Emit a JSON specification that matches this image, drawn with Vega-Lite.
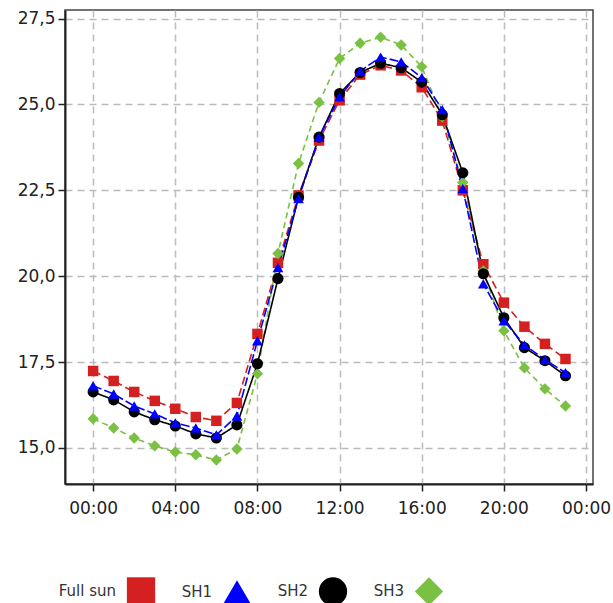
{
  "$schema": "https://vega.github.io/schema/vega-lite/v6.json",
  "width": 528,
  "height": 474,
  "padding": {"left": 17, "top": 9, "right": 5, "bottom": 0},
  "background": "white",
  "config": {
    "view": {"stroke": "#444", "strokeWidth": 1.5},
    "font": "DejaVu Sans",
    "axis": {
      "labelFont": "DejaVu Sans", "labelFontSize": 17, "labelColor": "#222",
      "domainColor": "#222", "domainWidth": 2, "tickColor": "#222", "tickWidth": 1.5, "tickSize": 7,
      "gridColor": "#bbbbbb", "gridDash": [7, 5], "gridWidth": 1.5, "title": null
    }
  },
  "datasets": {
    "temps": [
      {"series": "Full sun", "hour": 0, "temp": 17.24}, {"series": "Full sun", "hour": 1, "temp": 16.95}, {"series": "Full sun", "hour": 2, "temp": 16.63}, {"series": "Full sun", "hour": 3, "temp": 16.37}, {"series": "Full sun", "hour": 4, "temp": 16.14}, {"series": "Full sun", "hour": 5, "temp": 15.90}, {"series": "Full sun", "hour": 6, "temp": 15.79}, {"series": "Full sun", "hour": 7, "temp": 16.31}, {"series": "Full sun", "hour": 8, "temp": 18.32}, {"series": "Full sun", "hour": 9, "temp": 20.39}, {"series": "Full sun", "hour": 10, "temp": 22.35}, {"series": "Full sun", "hour": 11, "temp": 23.95}, {"series": "Full sun", "hour": 12, "temp": 25.12}, {"series": "Full sun", "hour": 13, "temp": 25.87}, {"series": "Full sun", "hour": 14, "temp": 26.14}, {"series": "Full sun", "hour": 15, "temp": 25.99}, {"series": "Full sun", "hour": 16, "temp": 25.50}, {"series": "Full sun", "hour": 17, "temp": 24.53}, {"series": "Full sun", "hour": 18, "temp": 22.50}, {"series": "Full sun", "hour": 19, "temp": 20.35}, {"series": "Full sun", "hour": 20, "temp": 19.23}, {"series": "Full sun", "hour": 21, "temp": 18.53}, {"series": "Full sun", "hour": 22, "temp": 18.03}, {"series": "Full sun", "hour": 23, "temp": 17.59},
      {"series": "SH3", "hour": 0, "temp": 15.85}, {"series": "SH3", "hour": 1, "temp": 15.58}, {"series": "SH3", "hour": 2, "temp": 15.29}, {"series": "SH3", "hour": 3, "temp": 15.06}, {"series": "SH3", "hour": 4, "temp": 14.88}, {"series": "SH3", "hour": 5, "temp": 14.80}, {"series": "SH3", "hour": 6, "temp": 14.65}, {"series": "SH3", "hour": 7, "temp": 14.97}, {"series": "SH3", "hour": 8, "temp": 17.16}, {"series": "SH3", "hour": 9, "temp": 20.66}, {"series": "SH3", "hour": 10, "temp": 23.28}, {"series": "SH3", "hour": 11, "temp": 25.06}, {"series": "SH3", "hour": 12, "temp": 26.34}, {"series": "SH3", "hour": 13, "temp": 26.78}, {"series": "SH3", "hour": 14, "temp": 26.96}, {"series": "SH3", "hour": 15, "temp": 26.73}, {"series": "SH3", "hour": 16, "temp": 26.10}, {"series": "SH3", "hour": 17, "temp": 24.64}, {"series": "SH3", "hour": 18, "temp": 22.73}, {"series": "SH3", "hour": 19, "temp": 20.15}, {"series": "SH3", "hour": 20, "temp": 18.41}, {"series": "SH3", "hour": 21, "temp": 17.33}, {"series": "SH3", "hour": 22, "temp": 16.72}, {"series": "SH3", "hour": 23, "temp": 16.22},
      {"series": "SH2", "hour": 0, "temp": 16.63}, {"series": "SH2", "hour": 1, "temp": 16.40}, {"series": "SH2", "hour": 2, "temp": 16.05}, {"series": "SH2", "hour": 3, "temp": 15.82}, {"series": "SH2", "hour": 4, "temp": 15.64}, {"series": "SH2", "hour": 5, "temp": 15.41}, {"series": "SH2", "hour": 6, "temp": 15.29}, {"series": "SH2", "hour": 7, "temp": 15.67}, {"series": "SH2", "hour": 8, "temp": 17.45}, {"series": "SH2", "hour": 9, "temp": 19.93}, {"series": "SH2", "hour": 10, "temp": 22.30}, {"series": "SH2", "hour": 11, "temp": 24.05}, {"series": "SH2", "hour": 12, "temp": 25.32}, {"series": "SH2", "hour": 13, "temp": 25.93}, {"series": "SH2", "hour": 14, "temp": 26.20}, {"series": "SH2", "hour": 15, "temp": 26.07}, {"series": "SH2", "hour": 16, "temp": 25.65}, {"series": "SH2", "hour": 17, "temp": 24.70}, {"series": "SH2", "hour": 18, "temp": 23.01}, {"series": "SH2", "hour": 19, "temp": 20.07}, {"series": "SH2", "hour": 20, "temp": 18.79}, {"series": "SH2", "hour": 21, "temp": 17.92}, {"series": "SH2", "hour": 22, "temp": 17.54}, {"series": "SH2", "hour": 23, "temp": 17.10},
      {"series": "SH1", "hour": 0, "temp": 16.81}, {"series": "SH1", "hour": 1, "temp": 16.57}, {"series": "SH1", "hour": 2, "temp": 16.22}, {"series": "SH1", "hour": 3, "temp": 15.99}, {"series": "SH1", "hour": 4, "temp": 15.73}, {"series": "SH1", "hour": 5, "temp": 15.58}, {"series": "SH1", "hour": 6, "temp": 15.38}, {"series": "SH1", "hour": 7, "temp": 15.93}, {"series": "SH1", "hour": 8, "temp": 18.12}, {"series": "SH1", "hour": 9, "temp": 20.25}, {"series": "SH1", "hour": 10, "temp": 22.26}, {"series": "SH1", "hour": 11, "temp": 24.04}, {"series": "SH1", "hour": 12, "temp": 25.22}, {"series": "SH1", "hour": 13, "temp": 25.97}, {"series": "SH1", "hour": 14, "temp": 26.38}, {"series": "SH1", "hour": 15, "temp": 26.24}, {"series": "SH1", "hour": 16, "temp": 25.78}, {"series": "SH1", "hour": 17, "temp": 24.85}, {"series": "SH1", "hour": 18, "temp": 22.55}, {"series": "SH1", "hour": 19, "temp": 19.78}, {"series": "SH1", "hour": 20, "temp": 18.70}, {"series": "SH1", "hour": 21, "temp": 18.00}, {"series": "SH1", "hour": 22, "temp": 17.57}, {"series": "SH1", "hour": 23, "temp": 17.19}
    ]
  },
  "data": {"name": "temps"},
  "encoding": {
    "x": {
      "field": "hour", "type": "quantitative",
      "scale": {"domain": [-1.37, 24.34], "nice": false, "zero": false},
      "axis": {"values": [0, 4, 8, 12, 16, 20, 24], "labelExpr": "(datum.value % 24 < 10 ? '0' : '') + (datum.value % 24) + ':00'", "labelPadding": 9, "title": null}
    },
    "y": {
      "field": "temp", "type": "quantitative",
      "scale": {"domain": [13.95, 27.75], "nice": false, "zero": false},
      "axis": {"values": [15, 17.5, 20, 22.5, 25, 27.5], "labelExpr": "replace(format(datum.value, '.1f'), '.', ',')", "labelPadding": 3, "title": null}
    }
  },
  "layer": [
    {
      "mark": {"type": "line", "strokeWidth": 1.6},
      "encoding": {
        "stroke": {"field": "series", "type": "nominal", "scale": {"domain": ["SH3", "SH2", "SH1", "Full sun"], "range": ["#7ac143", "#000000", "#0000ff", "#d42020"]}, "legend": null},
        "strokeDash": {"field": "series", "type": "nominal", "scale": {"domain": ["SH3", "SH2", "SH1", "Full sun"], "range": [[6, 4], [1, 0], [9, 3], [8, 4]]}, "legend": null}
      }
    },
    {
      "mark": {"type": "point", "filled": true, "opacity": 1},
      "encoding": {
        "color": {
          "field": "series", "type": "nominal",
          "scale": {"domain": ["Full sun", "SH1", "SH2", "SH3"], "range": ["#d42020", "#0000ff", "#000000", "#7ac143"]},
          "legend": {
            "orient": "none", "legendX": 61, "legendY": 566, "direction": "horizontal", "title": null,
            "symbolSize": 800, "labelFont": "DejaVu Sans", "labelFontSize": 15, "labelColor": "#333",
            "labelAlign": "right", "labelOffset": -40, "columnPadding": 25
          }
        },
        "shape": {"field": "series", "type": "nominal", "scale": {"domain": ["Full sun", "SH1", "SH2", "SH3"], "range": ["square", "triangle-up", "circle", "diamond"]}},
        "size": {"field": "series", "type": "nominal", "scale": {"domain": ["SH3", "SH2", "SH1", "Full sun"], "range": [130, 110, 150, 120]}, "legend": null}
      }
    }
  ]
}
